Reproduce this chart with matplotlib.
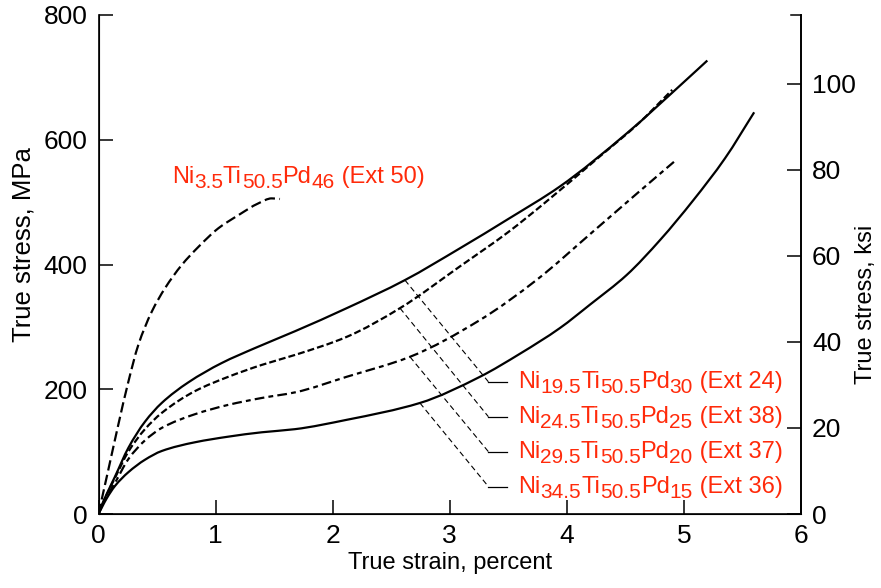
import matplotlib
matplotlib.use("Agg")
import matplotlib.pyplot as plt
from matplotlib.path import Path
from matplotlib.patches import PathPatch
from matplotlib.transforms import ScaledTranslation

plt.rcParams['font.family'] = ['Liberation Sans', 'DejaVu Sans']
plt.rcParams['lines.scale_dashes'] = False

# ---------------- data ----------------
strain_ext50 = [0, 0.04, 0.084, 0.169, 0.255, 0.34, 0.454, 0.568, 0.71, 0.852, 1.023, 1.194, 1.365, 1.479, 1.55]
stress_ext50 = [0, 34, 71, 143, 212, 271, 324, 362, 399, 428, 458, 479, 498, 506, 505]

strain_ext24 = [0, 0.03, 0.07, 0.141, 0.255, 0.397, 0.54, 0.767, 1.052, 1.336, 1.678, 2.12, 2.617, 3.087, 3.5, 3.94, 4.51, 5.02, 5.20]
stress_ext24 = [0, 15, 32, 60, 106, 148, 178, 211, 242, 266, 293, 330, 375, 426, 473, 525, 610, 696, 727]

strain_ext38 = [0, 0.03, 0.07, 0.141, 0.255, 0.397, 0.54, 0.824, 1.109, 1.394, 1.678, 2.12, 2.575, 3.087, 3.5, 3.8, 4.28, 4.6, 4.9]
stress_ext38 = [0, 14, 31, 58, 100, 136, 162, 197, 220, 239, 255, 284, 330, 397, 452, 497, 573, 624, 680]

strain_ext37 = [0, 0.03, 0.07, 0.141, 0.255, 0.397, 0.54, 0.824, 1.109, 1.394, 1.678, 2.12, 2.66, 3.258, 3.74, 4.225, 4.6, 4.93]
stress_ext37 = [0, 13, 28, 50, 88, 118, 138, 160, 175, 186, 195, 220, 252, 311, 375, 453, 514, 567]

strain_ext36 = [0, 0.03, 0.07, 0.141, 0.255, 0.397, 0.54, 0.824, 1.109, 1.394, 1.678, 2.12, 2.745, 3.258, 3.6, 3.94, 4.2, 4.51, 4.8, 5.08, 5.35, 5.6]
stress_ext36 = [0, 11, 25, 45, 67, 87, 101, 115, 124, 131, 136, 151, 178, 220, 257, 298, 336, 383, 440, 503, 570, 644]

labels = [
    [("Ni", False), ("19.5", True), ("Ti", False), ("50.5", True), ("Pd", False), ("30", True), (" (Ext 24)", False)],
    [("Ni", False), ("24.5", True), ("Ti", False), ("50.5", True), ("Pd", False), ("25", True), (" (Ext 38)", False)],
    [("Ni", False), ("29.5", True), ("Ti", False), ("50.5", True), ("Pd", False), ("20", True), (" (Ext 37)", False)],
    [("Ni", False), ("34.5", True), ("Ti", False), ("50.5", True), ("Pd", False), ("15", True), (" (Ext 36)", False)],
]
label_ext50 = [("Ni", False), ("3.5", True), ("Ti", False), ("50.5", True), ("Pd", False), ("46", True), (" (Ext 50)", False)]

x_ticks = [0, 1, 2, 3, 4, 5, 6]
y_ticks_mpa = [0, 200, 400, 600, 800]
y_ticks_ksi = [0, 20, 40, 60, 80, 100]
MPA_PER_KSI = 6.894757

# ---------------- figure ----------------
DPI = 100
fig = plt.figure(figsize=(8.81, 5.88), dpi=DPI)
ax = fig.add_axes([98.5 / 881, 74 / 588, (801 - 98.5) / 881, (514 - 15) / 588])


def smooth_curve(xs, ys, **kw):
    """Draw a smooth (piecewise cubic Hermite, monotone-preserving) curve through the given points."""
    n = len(xs)
    h = [xs[i + 1] - xs[i] for i in range(n - 1)]
    d = [(ys[i + 1] - ys[i]) / h[i] for i in range(n - 1)]
    m = [0.0] * n
    m[0] = d[0]
    m[-1] = d[-1]
    for i in range(1, n - 1):
        if d[i - 1] * d[i] <= 0:
            m[i] = 0.0
        else:
            w1 = 2 * h[i] + h[i - 1]
            w2 = h[i] + 2 * h[i - 1]
            m[i] = (w1 + w2) / (w1 / d[i - 1] + w2 / d[i])
    verts = [(xs[0], ys[0])]
    codes = [Path.MOVETO]
    for i in range(n - 1):
        verts += [(xs[i] + h[i] / 3, ys[i] + m[i] * h[i] / 3),
                  (xs[i + 1] - h[i] / 3, ys[i + 1] - m[i + 1] * h[i] / 3),
                  (xs[i + 1], ys[i + 1])]
        codes += [Path.CURVE4] * 3
    patch = PathPatch(Path(verts, codes), facecolor='none', edgecolor='black', capstyle='butt', **kw)
    ax.add_patch(patch)


LW = 1.6
smooth_curve(strain_ext50, stress_ext50, lw=LW, ls=(0, (7.5, 3.2)))
smooth_curve(strain_ext24, stress_ext24, lw=LW, ls='-')
smooth_curve(strain_ext38, stress_ext38, lw=LW, ls=(0, (5, 2.2)))
smooth_curve(strain_ext37, stress_ext37, lw=LW, ls=(0, (7, 3, 3.5, 3)))
smooth_curve(strain_ext36, stress_ext36, lw=LW, ls='-')

ax.set_xlim(0, 6)
ax.set_ylim(0, 800)
ax.set_xticks(x_ticks)
ax.set_yticks(y_ticks_mpa)
FS_TICK = 19
ax.tick_params(axis='both', direction='in', length=10, width=1.1, labelsize=FS_TICK, pad=8)
ax.tick_params(axis='x', pad=7)
for s in ['left', 'bottom', 'right']:
    ax.spines[s].set_linewidth(1.2)
ax.spines['top'].set_visible(False)
ax.set_xlabel("True strain, percent", fontsize=17, labelpad=3)
ax.set_ylabel("True stress, MPa", fontsize=18.5)
ax.yaxis.set_label_coords(-0.09, 0.54)

ax2 = ax.twinx()
ax2.set_ylim(0, 800 / MPA_PER_KSI)
ax2.set_yticks(y_ticks_ksi)
ax2.tick_params(axis='y', direction='in', length=10, width=1.1, labelsize=FS_TICK, pad=8)
ax2.spines['top'].set_visible(False)
ax2.spines['right'].set_linewidth(1.2)
ax2.set_ylabel("True stress, ksi", fontsize=17)
ax2.yaxis.set_label_coords(1.077, 0.42)
# top tick on right spine
ax.plot([6 - 10 / 117.1, 6], [800, 800], color='black', lw=1.1, clip_on=False)

RED = '#ff2a0a'
FS_MAIN = 17
FS_SUB = 15
SUB_DROP = 5.0  # pixels

renderer = fig.canvas.get_renderer()


def chem_text(x, y, parts):
    off = 0.0
    for txt, sub in parts:
        tr = ax.transData + ScaledTranslation(off / DPI, (-SUB_DROP if sub else 0) / DPI, fig.dpi_scale_trans)
        t = ax.text(x, y, txt, transform=tr, fontsize=FS_SUB if sub else FS_MAIN,
                    color=RED, ha='left', va='baseline', clip_on=False)
        bb = t.get_window_extent(renderer)
        off += bb.width


# leader lines: start on curve -> elbow -> horizontal end
leader_start = [(2.617, 375), (2.575, 330), (2.66, 252), (2.745, 178)]
leader_y = [212, 156, 100, 44]
elbow_x = 3.33
end_x = 3.49
text_x = 3.585
text_base = [201.5, 145.4, 89.3, 33.2]
for (sx, sy), ly, tb, parts in zip(leader_start, leader_y, text_base, labels):
    ax.plot([sx, elbow_x], [sy, ly], color='black', lw=0.8, dashes=(4, 2.5))
    ax.plot([elbow_x, end_x], [ly, ly], color='black', lw=0.9)
    chem_text(text_x, tb, parts)

chem_text(0.625, 530, label_ext50)

fig.savefig("out.png", dpi=DPI)
